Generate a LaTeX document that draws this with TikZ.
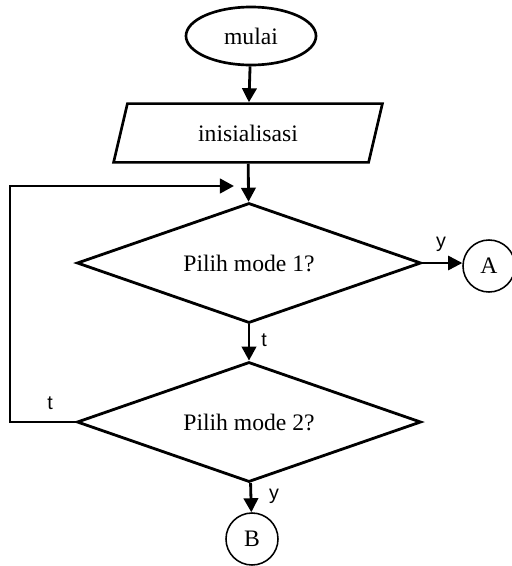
\documentclass[tikz,border=0pt]{standalone}
\usepackage{fontspec}
\setmainfont{Liberation Serif}
\setsansfont{Liberation Sans}
\usetikzlibrary{arrows.meta,shapes.geometric}

\begin{document}
\begin{tikzpicture}[
		x=0.025cm,
		y=-0.025cm,
		font=\fontsize{16.8}{20}\selectfont,
		>={Triangle[length=3.5mm,width=3.6mm]},
		terminal/.style={
			ellipse,
			draw=black,
			line width=1.9pt,
			minimum width=32.5mm,
			minimum height=14.5mm,
			inner sep=0pt
		},
		inputbox/.style={
			trapezium,
			trapezium stretches=true,
			trapezium left angle=71,
			trapezium right angle=109,
			draw=black,
			line width=1.9pt,
			minimum width=67.5mm,
			minimum height=14.7mm,
			inner sep=0pt
		},
		decision/.style={
			diamond,
			aspect=2.87,
			draw=black,
			line width=2pt,
			minimum width=86mm,
			minimum height=30mm,
			inner sep=0pt
		},
		connector/.style={
			circle,
			draw=black,
			line width=1.1pt,
			minimum size=13mm,
			inner sep=0pt
		},
		flow/.style={
			->,
			draw=black,
			line width=2pt
		},
		thinflow/.style={
			->,
			draw=black,
			line width=0.9pt
		},
		lbl/.style={
			font=\sffamily\fontsize{14}{16}\selectfont
		}
	]
		\useasboundingbox (0,0) rectangle (512,566);

		\node[terminal] (start) at (251,36) {mulai};
		\node[inputbox] (init) at (248,133) {inisialisasi};
		\node[decision] (d1) at (249,263) {Pilih mode 1?};
		\node[decision] (d2) at (249,422) {Pilih mode 2?};
		\node[connector] (ca) at (489,266) {A};
		\node[connector] (cb) at (252,539) {B};

		\coordinate (loopin) at (234,186);

		\draw[flow] (start) -- (init);
		\draw[flow] (init) -- (d1);
		\draw[flow] (d1) -- (d2);
		\draw[flow] (d2) -- (cb);
		\draw[thinflow] (d1.east) -- (ca.west |- d1.east);
		\draw[flow] (d2.west) -- (10,422) -- (10,186) -- (loopin);

		\node[lbl] (ly1) at (441,244) {y};
		\node[lbl] (lt1) at (264,340) {t};
		\node[lbl] (lt2) at (50,403) {t};
		\node[lbl] (ly2) at (274,496) {y};
	\end{tikzpicture}
\end{document}
